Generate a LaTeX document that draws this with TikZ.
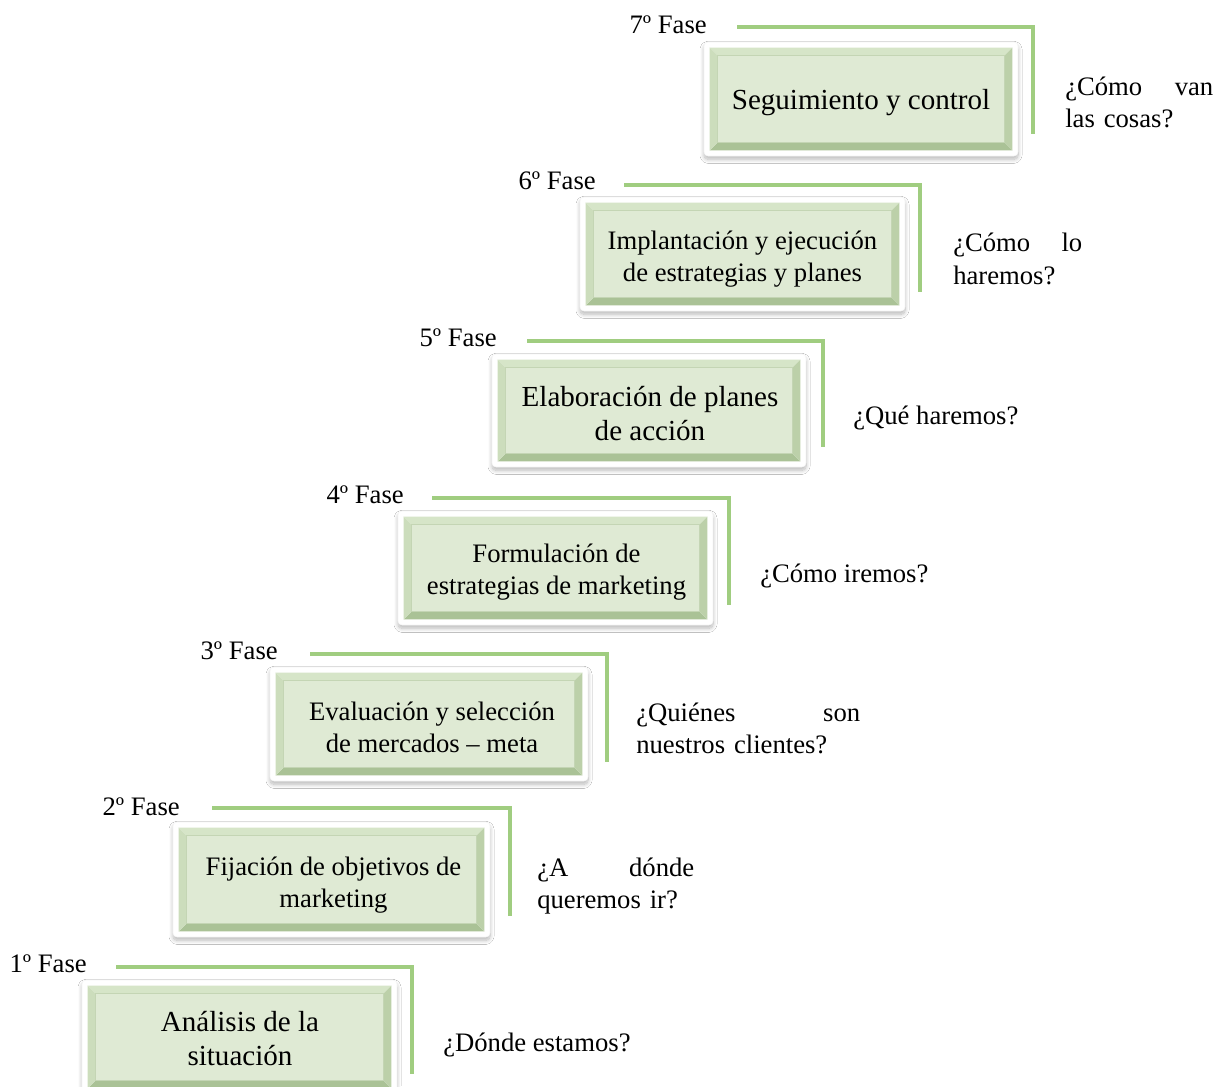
\documentclass[tikz,border=0pt]{standalone}
\usepackage{fontspec}
\setmainfont{Liberation Serif}
\usetikzlibrary{shadows.blur}
\definecolor{gline}{RGB}{160,205,128}
\definecolor{face}{RGB}{223,234,212}
\definecolor{bvtop}{RGB}{214,229,200}
\definecolor{bvleft}{RGB}{204,221,188}
\definecolor{bvright}{RGB}{188,208,169}
\definecolor{bvbot}{RGB}{170,194,150}
\definecolor{faceline}{RGB}{196,213,180}
\newcommand\bevelit[1]{%
  \fill[bvtop] ([shift={(6,6)}]#1.north west) -- ([shift={(-6,6)}]#1.north east) -- ([shift={(-14,14)}]#1.north east) -- ([shift={(14,14)}]#1.north west) -- cycle;
  \fill[bvbot] ([shift={(6,-6)}]#1.south west) -- ([shift={(-6,-6)}]#1.south east) -- ([shift={(-14,-14)}]#1.south east) -- ([shift={(14,-14)}]#1.south west) -- cycle;
  \fill[bvleft] ([shift={(6,6)}]#1.north west) -- ([shift={(14,14)}]#1.north west) -- ([shift={(14,-14)}]#1.south west) -- ([shift={(6,-6)}]#1.south west) -- cycle;
  \fill[bvright] ([shift={(-6,6)}]#1.north east) -- ([shift={(-14,14)}]#1.north east) -- ([shift={(-14,-14)}]#1.south east) -- ([shift={(-6,-6)}]#1.south east) -- cycle;
  \filldraw[fill=face, draw=faceline, line width=0.6pt] ([shift={(14,14)}]#1.north west) rectangle ([shift={(-14,-14)}]#1.south east);
}
\tikzset{
  frame/.style={fill=white, draw=black!4, line width=0.4pt, inner sep=0pt, rounded corners=3pt,
    blur shadow={shadow xshift=0pt, shadow yshift=-2.5pt, shadow blur radius=3pt, shadow blur steps=12, shadow opacity=28}},
  fase/.style={anchor=base east, inner sep=0pt, font=\fontsize{20pt}{24pt}\selectfont},
  ques/.style={anchor=west, inner sep=0pt, align=left, font=\fontsize{20pt}{24.4pt}\selectfont},
  btxt/.style={align=center, inner sep=0pt, font=\fontsize{20pt}{24pt}\selectfont},
  bbig/.style={align=center, inner sep=0pt, font=\fontsize{21.8pt}{25.5pt}\selectfont},
  gl/.style={draw=gline, line width=3pt},
}
\begin{document}
\begin{tikzpicture}[x=0.75pt,y=-0.75pt]
\useasboundingbox[fill=white] (0,0) rectangle (1218,1086);

% ---- 7
\node[fase] (f7) at (707,33) {7º Fase};
\coordinate (s7) at (737,27); \coordinate (e7) at (1033,134);
\draw[gl] (s7) -| (e7);
\node[frame, minimum width=235.5pt, minimum height=85.5pt] (b7) at (861,99) {};
\bevelit{b7}
\node[bbig] (t7) at ([shift={(0,4)}]b7.center) {Seguimiento y control};
\node[ques, text width=111pt] (q7) at (1065,102.5) {¿Cómo\hfill van\\las cosas?};

% ---- 6
\node[fase] (f6) at (596,189) {6º Fase};
\coordinate (s6) at (624,185); \coordinate (e6) at (920,292);
\draw[gl] (s6) -| (e6);
\node[frame, minimum width=243.75pt, minimum height=85.5pt] (b6) at (742.5,254) {};
\bevelit{b6}
\node[btxt] (t6) at ([shift={(0,5)}]b6.center) {Implantación y ejecución\\de estrategias y planes};
\node[ques, text width=96.75pt] (q6) at (953,259) {¿Cómo\hfill lo\\haremos?};

% ---- 5
\node[fase] (f5) at (497,346) {5º Fase};
\coordinate (s5) at (527,341); \coordinate (e5) at (823,447);
\draw[gl] (s5) -| (e5);
\node[frame, minimum width=235.5pt, minimum height=84.75pt] (b5) at (649,410.5) {};
\bevelit{b5}
\node[bbig] (t5) at ([shift={(1,3)}]b5.center) {Elaboración de planes\\de acción};
\node[ques] (q5) at (853,418) {¿Qué haremos?};

% ---- 4
\node[fase] (f4) at (404,503) {4º Fase};
\coordinate (s4) at (432,498); \coordinate (e4) at (729,605);
\draw[gl] (s4) -| (e4);
\node[frame, minimum width=236.25pt, minimum height=85.5pt] (b4) at (555.5,568) {};
\bevelit{b4}
\node[btxt] (t4) at ([shift={(1,4)}]b4.center) {Formulación de\\estrategias de marketing};
\node[ques] (q4) at (760,576) {¿Cómo iremos?};

% ---- 3
\node[fase] (f3) at (278,659) {3º Fase};
\coordinate (s3) at (310,654); \coordinate (e3) at (607,762);
\draw[gl] (s3) -| (e3);
\node[frame, minimum width=238.5pt, minimum height=85.5pt] (b3) at (429,724) {};
\bevelit{b3}
\node[btxt] (t3) at ([shift={(3,3)}]b3.center) {Evaluación y selección\\de mercados – meta};
\node[ques, text width=168pt] (q3) at (636,728.5) {¿Quiénes\hfill son\\nuestros clientes?};

% ---- 2
\node[fase] (f2) at (180,815) {2º Fase};
\coordinate (s2) at (212,808); \coordinate (e2) at (510,916);
\draw[gl] (s2) -| (e2);
\node[frame, minimum width=237.75pt, minimum height=86.25pt] (b2) at (331.5,879.5) {};
\bevelit{b2}
\node[btxt] (t2) at ([shift={(2,6)}]b2.center) {Fijación de objetivos de\\marketing};
\node[ques, text width=117.75pt] (q2) at (537,886) {¿A\hfill dónde\\queremos ir?};

% ---- 1
\node[fase] (f1) at (87,972) {1º Fase};
\coordinate (s1) at (116,967); \coordinate (e1) at (412,1074);
\draw[gl] (s1) -| (e1);
\node[frame, minimum width=236.25pt, minimum height=85.5pt] (b1) at (239.5,1037) {};
\bevelit{b1}
\node[bbig] (t1) at ([shift={(0.5,2)}]b1.center) {Análisis de la\\situación};
\node[ques] (q1) at (443,1045) {¿Dónde estamos?};
\end{tikzpicture}
\end{document}
